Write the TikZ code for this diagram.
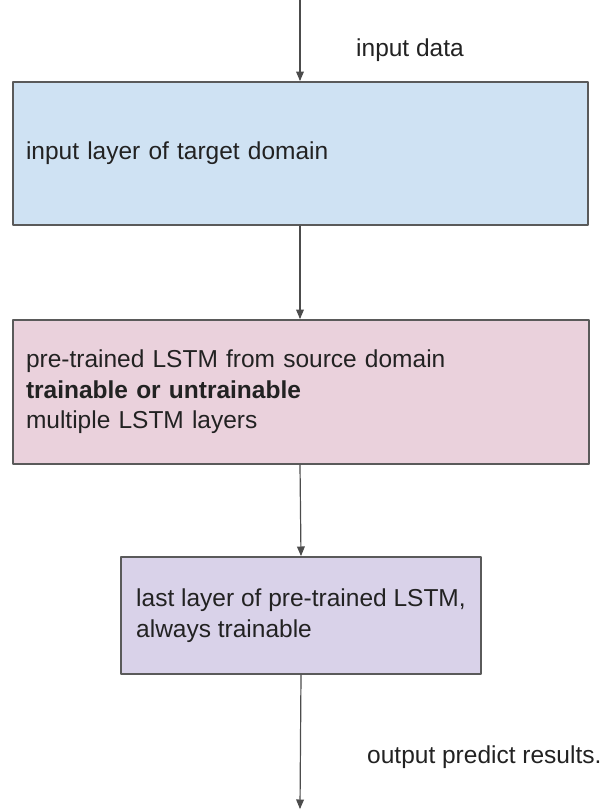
\documentclass[tikz,border=0pt]{standalone}
\usepackage{fontspec}
\setmainfont{Liberation Sans}
\usepackage{xcolor}
\usetikzlibrary{arrows}
\definecolor{inblue}{HTML}{CFE2F3}
\definecolor{lstmpink}{HTML}{EAD1DC}
\definecolor{lastpurple}{HTML}{D9D2E9}
\definecolor{edgegray}{HTML}{5A5A5A}
\definecolor{inkgray}{HTML}{222222}

\begin{document}
\begin{tikzpicture}[line cap=round,line join=round,>=triangle 45,x=1pt,y=-1pt,
		font=\fontsize{24.5}{30.5}\selectfont,text=inkgray,
		layer/.style={draw=edgegray,line width=2pt,inner xsep=13pt,align=left,anchor=north west},
		flow/.style={->,line width=1.2pt,color=black!70}]
		\useasboundingbox (0,0) rectangle (603,812);
		% boxes
		\node[layer,fill=inblue,minimum width=575pt,minimum height=143pt,text width=549pt] (inlayer) at (12,81) {input layer of target domain};
		\node[layer,fill=lstmpink,minimum width=576pt,minimum height=144pt,text width=550pt] (lstm) at (12,319) {pre-trained LSTM from source domain\\\textbf{trainable or untrainable}\\multiple LSTM layers};
		\node[layer,fill=lastpurple,minimum width=360pt,minimum height=117pt,inner xsep=8pt] (lastlayer) at (120,556) {last layer of pre-trained LSTM,\\always trainable};
		% free ends
		\coordinate (src) at (300,0);
		\coordinate (sink) at (300,809);
		% labels
		\node (indata) at (410,50) {input data};
		\node[anchor=west,inner sep=0pt] (outres) at (367,757) {output predict results.};
		% arrows
		\draw [flow] (src) -- (inlayer.north -| src);
		\draw [flow] (inlayer.south -| src) -- (lstm.north -| src);
		\draw [flow] (lstm.south -| src) -- (lastlayer.north);
		\draw [flow] (lastlayer.south) -- (sink);
	\end{tikzpicture}
\end{document}
